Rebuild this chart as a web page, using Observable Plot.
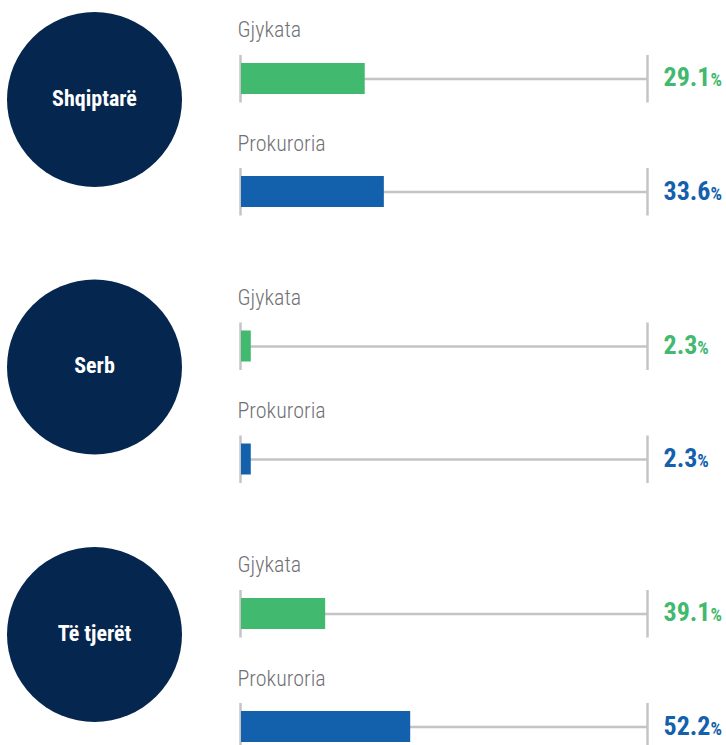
<!DOCTYPE html>
<html>
<head>
<meta charset="utf-8">
<script src="https://cdn.jsdelivr.net/npm/d3@7"></script>
<script src="https://cdn.jsdelivr.net/npm/@observablehq/plot@0.6"></script>
<style>
  html, body { margin: 0; padding: 0; background: #ffffff; }
  #chart { width: 726px; height: 745px; }
  #chart svg { font-stretch: condensed; }
</style>
</head>
<body>
<div id="chart"></div>
<script>
// ---- data ----
const groups = ["Shqiptarë", "Serb", "Të tjerët"];
const series = ["Gjykata", "Prokuroria"];
const seriesColors = ["#41b96e", "#1360ad"];
// printed values (%)
const valuesGjykata = [29.1, 2.3, 39.1];
const valuesProkuroria = [33.6, 2.3, 52.2];
// bar lengths as drawn in the source, in % units of the track
const barsGjykata = [29.1, 2.3, 19.8];
const barsProkuroria = [33.6, 2.3, 39.8];
const trackMax = 95.5;

const rows = groups.flatMap((g, i) => [
  {group: g, series: series[0], value: valuesGjykata[i], bar: barsGjykata[i]},
  {group: g, series: series[1], value: valuesProkuroria[i], bar: barsProkuroria[i]}
]);

const FONT = "Roboto, 'DejaVu Sans', sans-serif";
const NAVY = "#05264f";
const GREY = "#c4c4c8";
const LABEL_GREY = "#717175";

const chart = Plot.plot({
  width: 726,
  height: 745,
  marginTop: 0,
  marginBottom: 0,
  marginLeft: 241,
  marginRight: 79,
  style: {fontFamily: FONT, background: "#ffffff"},
  x: {domain: [0, trackMax], axis: null},
  y: {domain: series, range: [97.75, 241.75], paddingInner: 0.7257, paddingOuter: 0, round: false, axis: null},
  fy: {domain: groups, range: [-34.75, -34.75 + 3 * 267.5], padding: 0, round: false, axis: null},
  color: {domain: series, range: seriesColors},
  marks: [
    // circles with group names
    Plot.dot(groups, {fy: d => d, frameAnchor: "left", dx: -147, r: 87.5, fill: NAVY, stroke: "none"}),
    Plot.text(groups, {fy: d => d, text: d => d, frameAnchor: "left", textAnchor: "middle", dx: -147, dy: -1,
      fill: "#ffffff", fontSize: 22, fontWeight: "bold", fontFamily: FONT}),
    // grey track
    Plot.ruleY(rows, {fy: "group", y: "series", x1: 0, x2: trackMax, stroke: GREY, strokeWidth: 2.5}),
    // end ticks
    Plot.tickX(rows, {fy: "group", y: "series", x: 0, dx: -1, stroke: GREY, strokeWidth: 2.5, insetTop: -8, insetBottom: -8.5}),
    Plot.tickX(rows, {fy: "group", y: "series", x: trackMax, stroke: GREY, strokeWidth: 2.5, insetTop: -8, insetBottom: -8.5}),
    // bars
    Plot.barX(rows, {fy: "group", y: "series", x: "bar", fill: "series"}),
    // series labels
    Plot.text(rows, {fy: "group", y: "series", x: 0, text: "series", textAnchor: "start", lineAnchor: "bottom",
      dx: -4, dy: -41.5, fill: LABEL_GREY, fontSize: 22, fontWeight: 300, fontFamily: FONT}),
    // value labels
    Plot.text(rows, {fy: "group", y: "series", frameAnchor: "right", text: d => d.value.toFixed(1),
      textAnchor: "start", lineAnchor: "bottom", dx: 16, dy: 7.5, fill: "series",
      fontSize: 26, fontWeight: "bold", fontFamily: FONT})
  ]
});

// append a smaller "%" after each value label
const ns = "http://www.w3.org/2000/svg";
chart.querySelectorAll("text").forEach(t => {
  if (/^\d+\.\d$/.test(t.textContent)) {
    const ts = document.createElementNS(ns, "tspan");
    ts.setAttribute("font-size", "18");
    ts.setAttribute("font-weight", "bold");
    ts.textContent = "%";
    t.appendChild(ts);
  }
});

document.getElementById("chart").appendChild(chart);
</script>
</body>
</html>
